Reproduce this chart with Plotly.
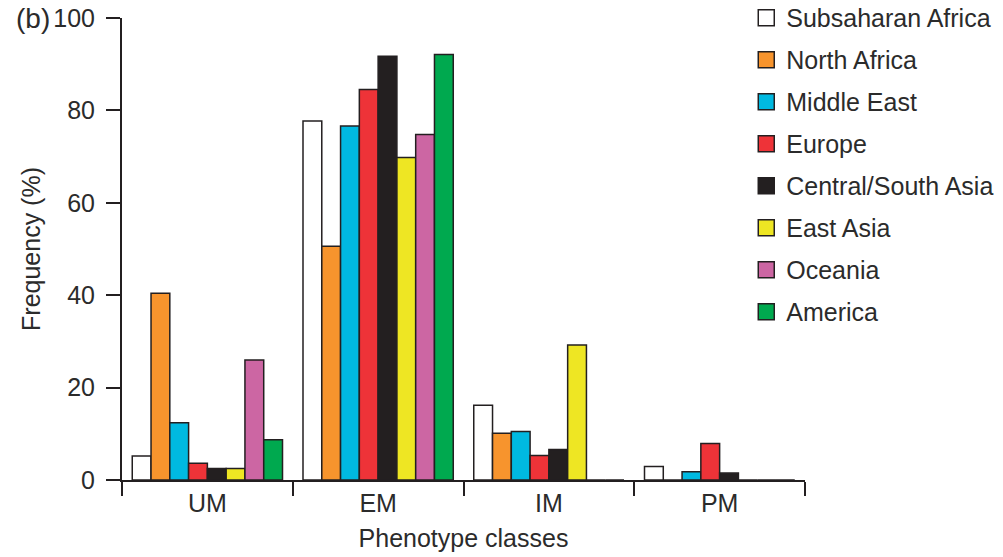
import plotly.graph_objects as go

categories = ["UM", "EM", "IM", "PM"]
regions = ["Subsaharan Africa", "North Africa", "Middle East", "Europe",
           "Central/South Asia", "East Asia", "Oceania", "America"]
colors = ["#FFFFFF", "#F7942D", "#00B9E1", "#EE3338", "#231F20", "#EEE623", "#CC66A3", "#00A94F"]

subsaharan_africa = [5.2, 77.7, 16.2, 2.9]
north_africa = [40.4, 50.6, 10.1, 0.0]
middle_east = [12.4, 76.6, 10.5, 1.8]
europe = [3.6, 84.5, 5.3, 7.9]
central_south_asia = [2.5, 91.7, 6.6, 1.5]
east_asia = [2.5, 69.8, 29.2, 0.0]
oceania = [26.0, 74.8, 0.0, 0.0]
america = [8.7, 92.1, 0.0, 0.0]

series = [subsaharan_africa, north_africa, middle_east, europe,
          central_south_asia, east_asia, oceania, america]

FONT = "Liberation Sans, Arial, Helvetica, sans-serif"
TXT = "#2b2b2b"

fig = go.Figure()
for name, vals, col in zip(regions, series, colors):
    fig.add_trace(go.Bar(
        x=categories, y=vals, name=name, legendgroup=name, showlegend=False,
        marker=dict(color=col, line=dict(color="#231F20", width=1.5)),
    ))
    fig.add_trace(go.Scatter(
        x=[None], y=[None], mode="markers", name=name, legendgroup=name,
        marker=dict(symbol="square", size=16, color=col,
                    line=dict(color="#231F20", width=1.5)),
    ))

fig.update_layout(
    width=1003, height=557,
    margin=dict(l=122, r=198, t=18, b=77, autoexpand=False),
    paper_bgcolor="white", plot_bgcolor="white",
    barmode="group", bargap=0.12, bargroupgap=0,
    font=dict(family=FONT, size=25, color=TXT),
    showlegend=True,
    legend=dict(x=0.914, y=1.05, xanchor="left", yanchor="top",
                font=dict(size=25, color=TXT), tracegroupgap=6.5,
                bgcolor="rgba(0,0,0,0)", itemclick=False, maxheight=1.0),
    xaxis=dict(
        showline=True, linecolor="#231F20", linewidth=2,
        ticks="outside", tickson="boundaries", ticklen=14, tickwidth=2,
        tickcolor="#231F20", showgrid=False, zeroline=False, automargin=False,
        title=dict(text="Phenotype classes", font=dict(size=25, color=TXT), standoff=13),
        tickfont=dict(size=25, color=TXT),
    ),
    yaxis=dict(
        range=[0, 100], tickvals=[0, 20, 40, 60, 80, 100],
        showline=True, linecolor="#231F20", linewidth=2,
        ticks="outside", ticklen=14, tickwidth=2, tickcolor="#231F20",
        showgrid=False, zeroline=False, ticklabelstandoff=6, automargin=False,
        ticklabeloverflow="allow",
        title=dict(text="Frequency (%)", font=dict(size=25, color=TXT), standoff=6),
        tickfont=dict(size=25, color=TXT),
    ),
    annotations=[dict(text="(b)", x=-0.1575, y=1.0, xref="paper", yref="paper",
                      xanchor="left", yanchor="middle", showarrow=False,
                      font=dict(size=28, color=TXT))],
)

fig.write_html("out.html", config={"displayModeBar": False},
               post_script="document.body.style.margin='0';document.body.style.padding='0';")
